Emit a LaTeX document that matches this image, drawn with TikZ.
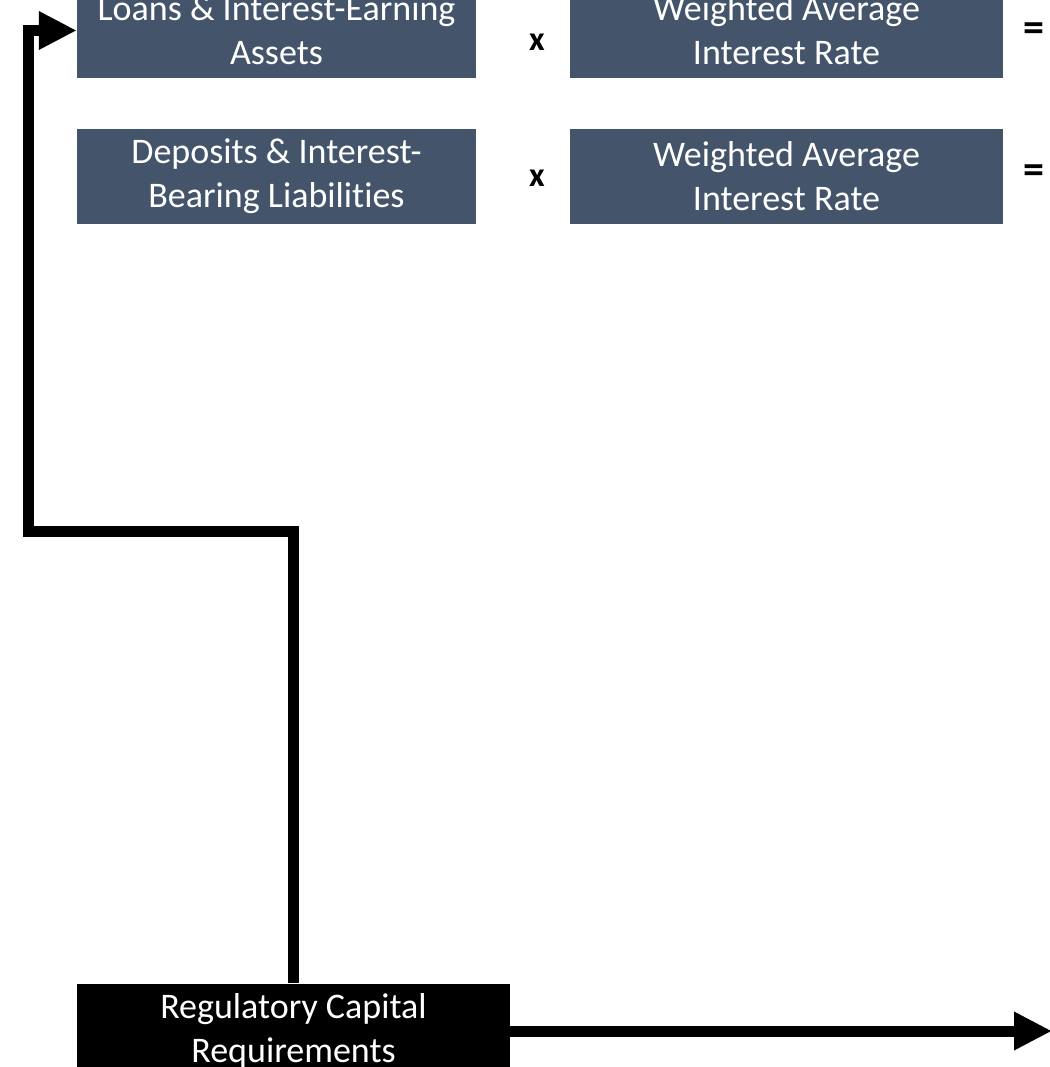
\documentclass[tikz,border=0pt]{standalone}
\usepackage{fontspec}
\setmainfont[Ligatures=NoCommon]{Carlito}
\usetikzlibrary{arrows.meta}
\definecolor{slate}{RGB}{68,84,106}
\tikzset{
  x=1pt, y=1pt,
  slatebox/.style={fill=slate, text=white, minimum height=95pt, align=center, inner sep=0pt, font=\fontsize{36}{44}\selectfont},
  blackbox/.style={fill=black, text=white, minimum height=95pt, align=center, inner sep=0pt, font=\fontsize{36}{44}\selectfont},
  opsym/.style={font=\fontsize{34}{36}\selectfont\bfseries, inner sep=0pt},
  eqsym/.style={font=\fontsize{42}{44}\selectfont\bfseries, inner sep=0pt},
  conn/.style={line width=11pt, line join=miter, -{Triangle[length=38pt,width=36pt]}}
}
\begin{document}
\begin{tikzpicture}
\useasboundingbox (0,0) rectangle (1049,-1067);
\node[slatebox, minimum width=399pt] (loans) at (276.5,-30.5) {Loans \& Interest-Earning\\Assets};
\node[slatebox, minimum width=399pt] (deps) at (276.5,-176.5) {Deposits \& Interest-\\Bearing Liabilities};
\node[slatebox, minimum width=433pt] (rate1) at (786.5,-30.5) {Weighted Average\\Interest Rate};
\node[slatebox, minimum width=433pt] (rate2) at (786.5,-176.5) {Weighted Average\\Interest Rate};
\node[opsym] (x1) at (537,-42) {x};
\node[opsym] (x2) at (537,-178) {x};
\node[eqsym] (eq1) at (1034,-32) {=};
\node[eqsym] (eq2) at (1034,-174) {=};
\node[blackbox, minimum width=433pt] (reg) at (293.5,-1031) {Regulatory Capital\\Requirements};
\coordinate (turn) at (28,-531);
\coordinate (rend) at (1052,-1031);
\draw[conn] (reg.north) |- (turn) |- (loans.west);
\draw[conn] (reg.east) -- (rend);
\end{tikzpicture}
\end{document}
